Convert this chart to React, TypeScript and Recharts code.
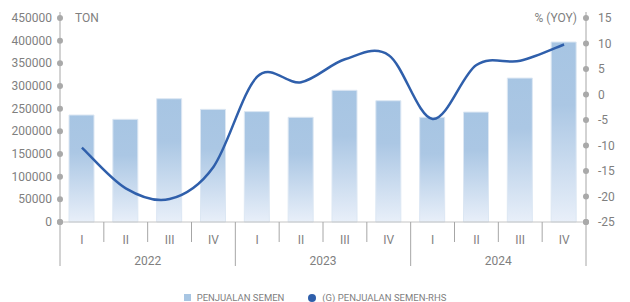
import { ComposedChart, Bar, Line, XAxis, YAxis, Legend } from 'recharts';

const quarters = ['I', 'II', 'III', 'IV', 'I', 'II', 'III', 'IV', 'I', 'II', 'III', 'IV'];
const years = ['2022', '2022', '2022', '2022', '2023', '2023', '2023', '2023', '2024', '2024', '2024', '2024'];
const salesTon = [236000, 226500, 272000, 248500, 243500, 231000, 290500, 267500, 231000, 242500, 317500, 397000];
const salesYoy = [-10.4, -18.4, -20.5, -14.2, 3.5, 2.4, 6.9, 7.7, -4.8, 5.8, 6.6, 9.8];
const leftTicks = [0, 50000, 100000, 150000, 200000, 250000, 300000, 350000, 400000, 450000];
const rightTicks = [-25, -20, -15, -10, -5, 0, 5, 10, 15];

const data = quarters.map((q, i) => ({
  key: `${years[i]}-${q}`,
  quarter: q,
  year: years[i],
  ton: salesTon[i],
  yoy: salesYoy[i],
}));

const FONT = 'Roboto, sans-serif';
const TEXT = '#7f7f7f';
const AXIS = '#a6a6a6';
const DOT = '#a9a9a9';

// excel-like smoothing (catmull-rom through every point)
function smoothCurve(context: any) {
  let pts: [number, number][] = [];
  return {
    areaStart() {},
    areaEnd() {},
    lineStart() {
      pts = [];
    },
    lineEnd() {
      if (!pts.length) return;
      context.moveTo(pts[0][0], pts[0][1]);
      for (let i = 0; i < pts.length - 1; i++) {
        const p0 = pts[i - 1] || pts[i];
        const p1 = pts[i];
        const p2 = pts[i + 1];
        const p3 = pts[i + 2] || p2;
        context.bezierCurveTo(
          p1[0] + (p2[0] - p0[0]) / 6,
          p1[1] + (p2[1] - p0[1]) / 6,
          p2[0] - (p3[0] - p1[0]) / 6,
          p2[1] - (p3[1] - p1[1]) / 6,
          p2[0],
          p2[1]
        );
      }
    },
    point(x: number, y: number) {
      pts.push([+x, +y]);
    },
  };
}

function LeftTick(props: any) {
  const { x, y, payload } = props;
  const top = payload.value === leftTicks[leftTicks.length - 1];
  return (
    <g>
      {top && <line x1={x} x2={x} y1={y - 6} y2={y} stroke={AXIS} />}
      <circle cx={x} cy={y} r={3} fill={DOT} />
      <text x={x - 8} y={y + 4} textAnchor="end" fontSize={12} fill={TEXT} fontFamily={FONT}>
        {payload.value}
      </text>
      {top && (
        <text x={x + 15} y={y + 4} fontSize={12} fill={TEXT} fontFamily={FONT}>
          TON
        </text>
      )}
    </g>
  );
}

function RightTick(props: any) {
  const { x, y, payload } = props;
  const top = payload.value === rightTicks[rightTicks.length - 1];
  return (
    <g>
      {top && <line x1={x} x2={x} y1={y - 6} y2={y} stroke={AXIS} />}
      <circle cx={x} cy={y} r={3} fill={DOT} />
      <text x={x + 12} y={y + 4} textAnchor="start" fontSize={12} fill={TEXT} fontFamily={FONT}>
        {payload.value}
      </text>
      {top && (
        <text x={x - 9} y={y + 4} textAnchor="end" fontSize={12} fill={TEXT} fontFamily={FONT}>
          % (YOY)
        </text>
      )}
    </g>
  );
}

function QuarterTick(props: any) {
  const { x, y, payload, index, width, visibleTicksCount } = props;
  const half = payload?.offset || width / visibleTicksCount / 2;
  const yearStart = index % 4 === 0;
  const last = index === data.length - 1;
  return (
    <g>
      <line x1={x - half} x2={x - half} y1={y} y2={yearStart ? y + 44 : y + 20} stroke={AXIS} />
      {last && <line x1={x + half} x2={x + half} y1={y - 2} y2={y + 44} stroke={AXIS} />}
      {last && <circle cx={x + half} cy={y} r={3} fill={DOT} />}
      {index === 0 && <circle cx={x - half} cy={y} r={3} fill={DOT} />}
      <text x={x} y={y + 22} textAnchor="middle" fontSize={12} fill={TEXT} fontFamily={FONT}>
        {payload.value}
      </text>
      {index % 4 === 1 && (
        <text x={x + half} y={y + 43} textAnchor="middle" fontSize={12} fill={TEXT} fontFamily={FONT}>
          {data[index].year}
        </text>
      )}
    </g>
  );
}

function LegendContent() {
  return (
    <div
      style={{
        display: 'flex',
        justifyContent: 'center',
        alignItems: 'center',
        paddingTop: 22,
        fontFamily: FONT,
        fontSize: 9.5,
        color: TEXT,
      }}
    >
      <span style={{ display: 'flex', alignItems: 'center', marginRight: 24 }}>
        <span style={{ width: 7, height: 7, background: '#a8c6e3', marginRight: 6 }} />
        PENJUALAN SEMEN
      </span>
      <span style={{ display: 'flex', alignItems: 'center' }}>
        <span style={{ width: 8, height: 8, borderRadius: 4, background: '#2f5fab', marginRight: 6 }} />
        (G) PENJUALAN SEMEN-RHS
      </span>
    </div>
  );
}

export default function App() {
  return (
    <div style={{ position: 'absolute', left: 0, top: 0, width: 630, height: 302, background: '#fff' }}>
      <ComposedChart width={630} height={302} data={data} margin={{ top: 18, right: 0, bottom: 0, left: 0 }}>
        <defs>
          <linearGradient id="barFill" x1="0" y1="0" x2="0" y2="1">
            <stop offset="0%" stopColor="#a7c5e3" />
            <stop offset="35%" stopColor="#abc7e4" />
            <stop offset="100%" stopColor="#e8eff9" />
          </linearGradient>
        </defs>
        <XAxis
          dataKey="quarter"
          xAxisId="q"
          height={48}
          tickSize={0}
          tickMargin={0}
          axisLine={{ stroke: '#c4c4c4' }}
          tick={<QuarterTick />}
          interval={0}
        />
        <YAxis
          yAxisId="left"
          orientation="left"
          width={60}
          domain={[0, 450000]}
          ticks={leftTicks}
          tickSize={0}
          tickMargin={0}
          axisLine={{ stroke: AXIS }}
          tick={<LeftTick />}
          interval={0}
        />
        <YAxis
          yAxisId="right"
          orientation="right"
          width={44}
          domain={[-25, 15]}
          ticks={rightTicks}
          tickSize={0}
          tickMargin={0}
          axisLine={{ stroke: AXIS }}
          tick={<RightTick />}
          interval={0}
        />
        <Legend verticalAlign="bottom" height={32} content={<LegendContent />} />
        <Bar
          xAxisId="q"
          yAxisId="left"
          dataKey="ton"
          name="PENJUALAN SEMEN"
          barSize={25}
          fill="url(#barFill)"
          stroke="#dce7f3"
          strokeWidth={1}
          isAnimationActive={false}
        />
        <Line
          xAxisId="q"
          yAxisId="right"
          dataKey="yoy"
          name="(G) PENJUALAN SEMEN-RHS"
          type={smoothCurve as any}
          stroke="#2f5fab"
          strokeWidth={2.5}
          dot={false}
          activeDot={false}
          isAnimationActive={false}
        />
      </ComposedChart>
    </div>
  );
}
